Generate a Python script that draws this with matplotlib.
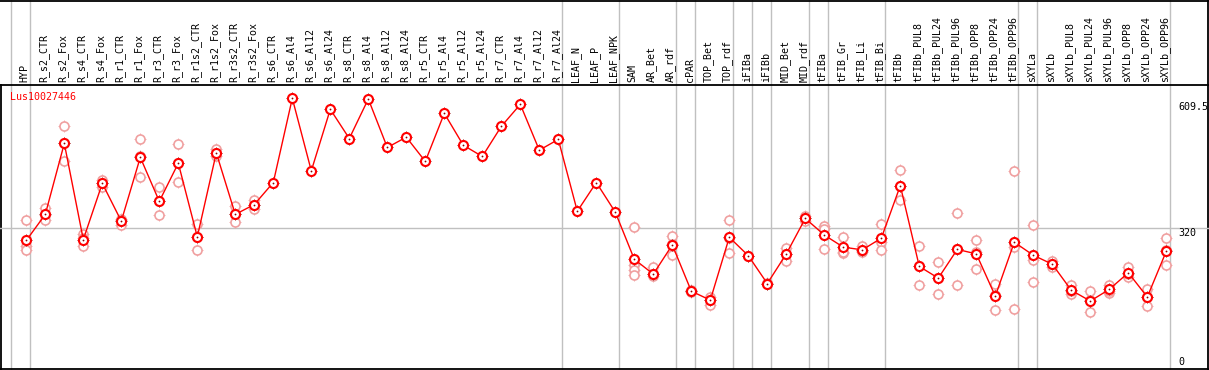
import matplotlib
matplotlib.use("Agg")
import matplotlib.pyplot as plt
import numpy as np

samples = ["HYP", "R_s2_CTR", "R_s2_Fox", "R_s4_CTR", "R_s4_Fox", "R_r1_CTR", "R_r1_Fox",
           "R_r3_CTR", "R_r3_Fox", "R_r1s2_CTR", "R_r1s2_Fox", "R_r3s2_CTR", "R_r3s2_Fox",
           "R_s6_CTR", "R_s6_Al4", "R_s6_Al12", "R_s6_Al24", "R_s8_CTR", "R_s8_Al4",
           "R_s8_Al12", "R_s8_Al24", "R_r5_CTR", "R_r5_Al4", "R_r5_Al12", "R_r5_Al24",
           "R_r7_CTR", "R_r7_Al4", "R_r7_Al12", "R_r7_Al24", "LEAF_N", "LEAF_P", "LEAF_NPK",
           "SAM", "AR_Bet", "AR_rdf", "cPAR", "TOP_Bet", "TOP_rdf", "iFIBa", "iFIBb",
           "MID_Bet", "MID_rdf", "tFIBa", "tFIB_Gr", "tFIB_Li", "tFIB_Bi", "tFIBb",
           "tFIBb_PUL8", "tFIBb_PUL24", "tFIBb_PUL96", "tFIBb_OPP8", "tFIBb_OPP24",
           "tFIBb_OPP96", "sXYLa", "sXYLb", "sXYLb_PUL8", "sXYLb_PUL24", "sXYLb_PUL96",
           "sXYLb_OPP8", "sXYLb_OPP24", "sXYLb_OPP96"]

mean_values = [293, 351, 509, 295, 420, 336, 478, 380, 465, 301, 488, 351, 373,
               422, 609.5, 448, 585, 520, 608, 500, 523, 469, 576, 505, 480,
               547, 596, 494, 518, 358, 422, 356,
               251, 218, 283, 180, 160, 300, 259, 197, 263, 342, 305, 278, 272, 298, 415,
               235, 209, 273, 263, 169, 289, 260, 240, 182, 158, 184, 221, 167, 269]

replicates = [
    [338, 281, 272], [366, 350, 338], [547, 471, 509], [307, 281, 298], [428, 420, 413],
    [340, 328, 339], [520, 435, 480], [411, 349, 380], [507, 423, 465], [330, 271, 301],
    [496, 480, 488], [369, 333, 351], [384, 363, 373],
    [], [], [], [], [], [], [], [], [], [], [], [], [], [], [], [], [], [], [],
    [323, 238, 227, 217], [234, 214, 218], [302, 261, 286], [182, 178, 180],
    [168, 150, 160], [338, 264, 298], [259, 258], [197, 198], [277, 247, 263],
    [348, 342, 336], [326, 318, 274], [300, 266, 268], [281, 267, 270],
    [329, 290, 271], [450, 383, 415],
    [280, 193, 235], [244, 173, 209], [353, 193, 273], [293, 229, 267],
    [197, 138, 172], [448, 141, 278], [327, 249, 200], [247, 233, 240],
    [194, 173, 180], [181, 133, 160], [194, 177, 181], [234, 211, 219],
    [184, 148, 168], [298, 238, 272]]

group_ends = [-1, 0, 28, 31, 34, 35, 37, 38, 39, 41, 42, 45, 52, 53, 60]
gene_id = "Lus10027446"
right_ticks = [609.5, 320, 0]
right_tick_labels = ["609.5", "320", "0"]

W, H = 1209, 370
fig = plt.figure(figsize=(W / 100, H / 100), dpi=100)
fig.patch.set_facecolor("white")

x0_px, step_px = 26.3, 19.0
xlim = (-x0_px / step_px, (W - x0_px) / step_px)
header_px = 85
mono = "DejaVu Sans Mono"
fs = 7.2

# background axes across whole figure
bg = fig.add_axes([0, 0, 1, 1])
bg.set_xlim(*xlim)
bg.set_ylim(0, H)
bg.invert_yaxis()
bg.axis("off")
for g in group_ends:
    bg.axvline(g + 4 / step_px, color="#c0c0c0", lw=1.0, zorder=1)
bg.axhline(header_px, color="black", lw=1.3, zorder=2)
# frame
bg.plot([xlim[0] + 1.2 / step_px] * 2, [header_px, H - 0.5], color="black", lw=1.3)
bg.plot([xlim[0], xlim[1]], [0.6, 0.6], color="black", lw=1.3)
bg.plot([xlim[1] - 1.4 / step_px] * 2, [0, H], color="black", lw=1.3)
bg.plot([xlim[0], xlim[1]], [H - 1.2, H - 1.2], color="black", lw=1.3)

for i, s in enumerate(samples):
    bg.text(i - 0.08, header_px - 2.5, s, rotation=90, ha="center", va="bottom",
            family=mono, fontsize=fs, color="black")

# main plot axes
ax = fig.add_axes([0, 0, 1, (H - header_px) / H])
ax.set_xlim(*xlim)
ppu = 0.449  # px per unit
v_at = lambda ypx: 320 + (228.3 - ypx) / ppu
ax.set_ylim(v_at(H), v_at(header_px))
ax.patch.set_alpha(0)
ax.axis("off")
ax.axhline(320, color="#c0c0c0", lw=1.0, zorder=1)

x = np.arange(len(samples))
rep_color = "#f0a0a0"
for i, reps in enumerate(replicates):
    if reps:
        xs = [i] * len(reps)
        ax.plot(xs, reps, linestyle="none", marker="+", ms=8.5, mew=0.6, color=rep_color,
                zorder=1.9)
        ax.plot(xs, reps, linestyle="none", marker="o", ms=6.5, mfc="white", mec=rep_color,
                mew=1.2, zorder=2)

ax.plot(x, mean_values, color="red", lw=1.0, zorder=3)
ax.plot(x, mean_values, linestyle="none", marker="+", ms=9, mew=0.6, color="#800000", zorder=4)
ax.plot(x, mean_values, linestyle="none", marker="o", ms=6.5, mfc="white", mec="red",
        mew=1.5, zorder=5)
ax.plot(x, mean_values, linestyle="none", marker="o", ms=1.3, mfc="#900000", mec="none",
        zorder=6)

ax.text(10 / step_px + xlim[0], v_at(97), gene_id, color="red", family=mono, fontsize=fs,
        ha="left", va="center")

for v, lab in zip(right_ticks, right_tick_labels):
    ypx = 228.3 - (v - 320) * ppu
    ypx = min(max(ypx + 5, 107), 362)
    ax.text(1178 / step_px + xlim[0], v_at(ypx), lab, color="black", family=mono,
            fontsize=fs, ha="left", va="center")

fig.savefig("out.png", dpi=100, facecolor="white")
